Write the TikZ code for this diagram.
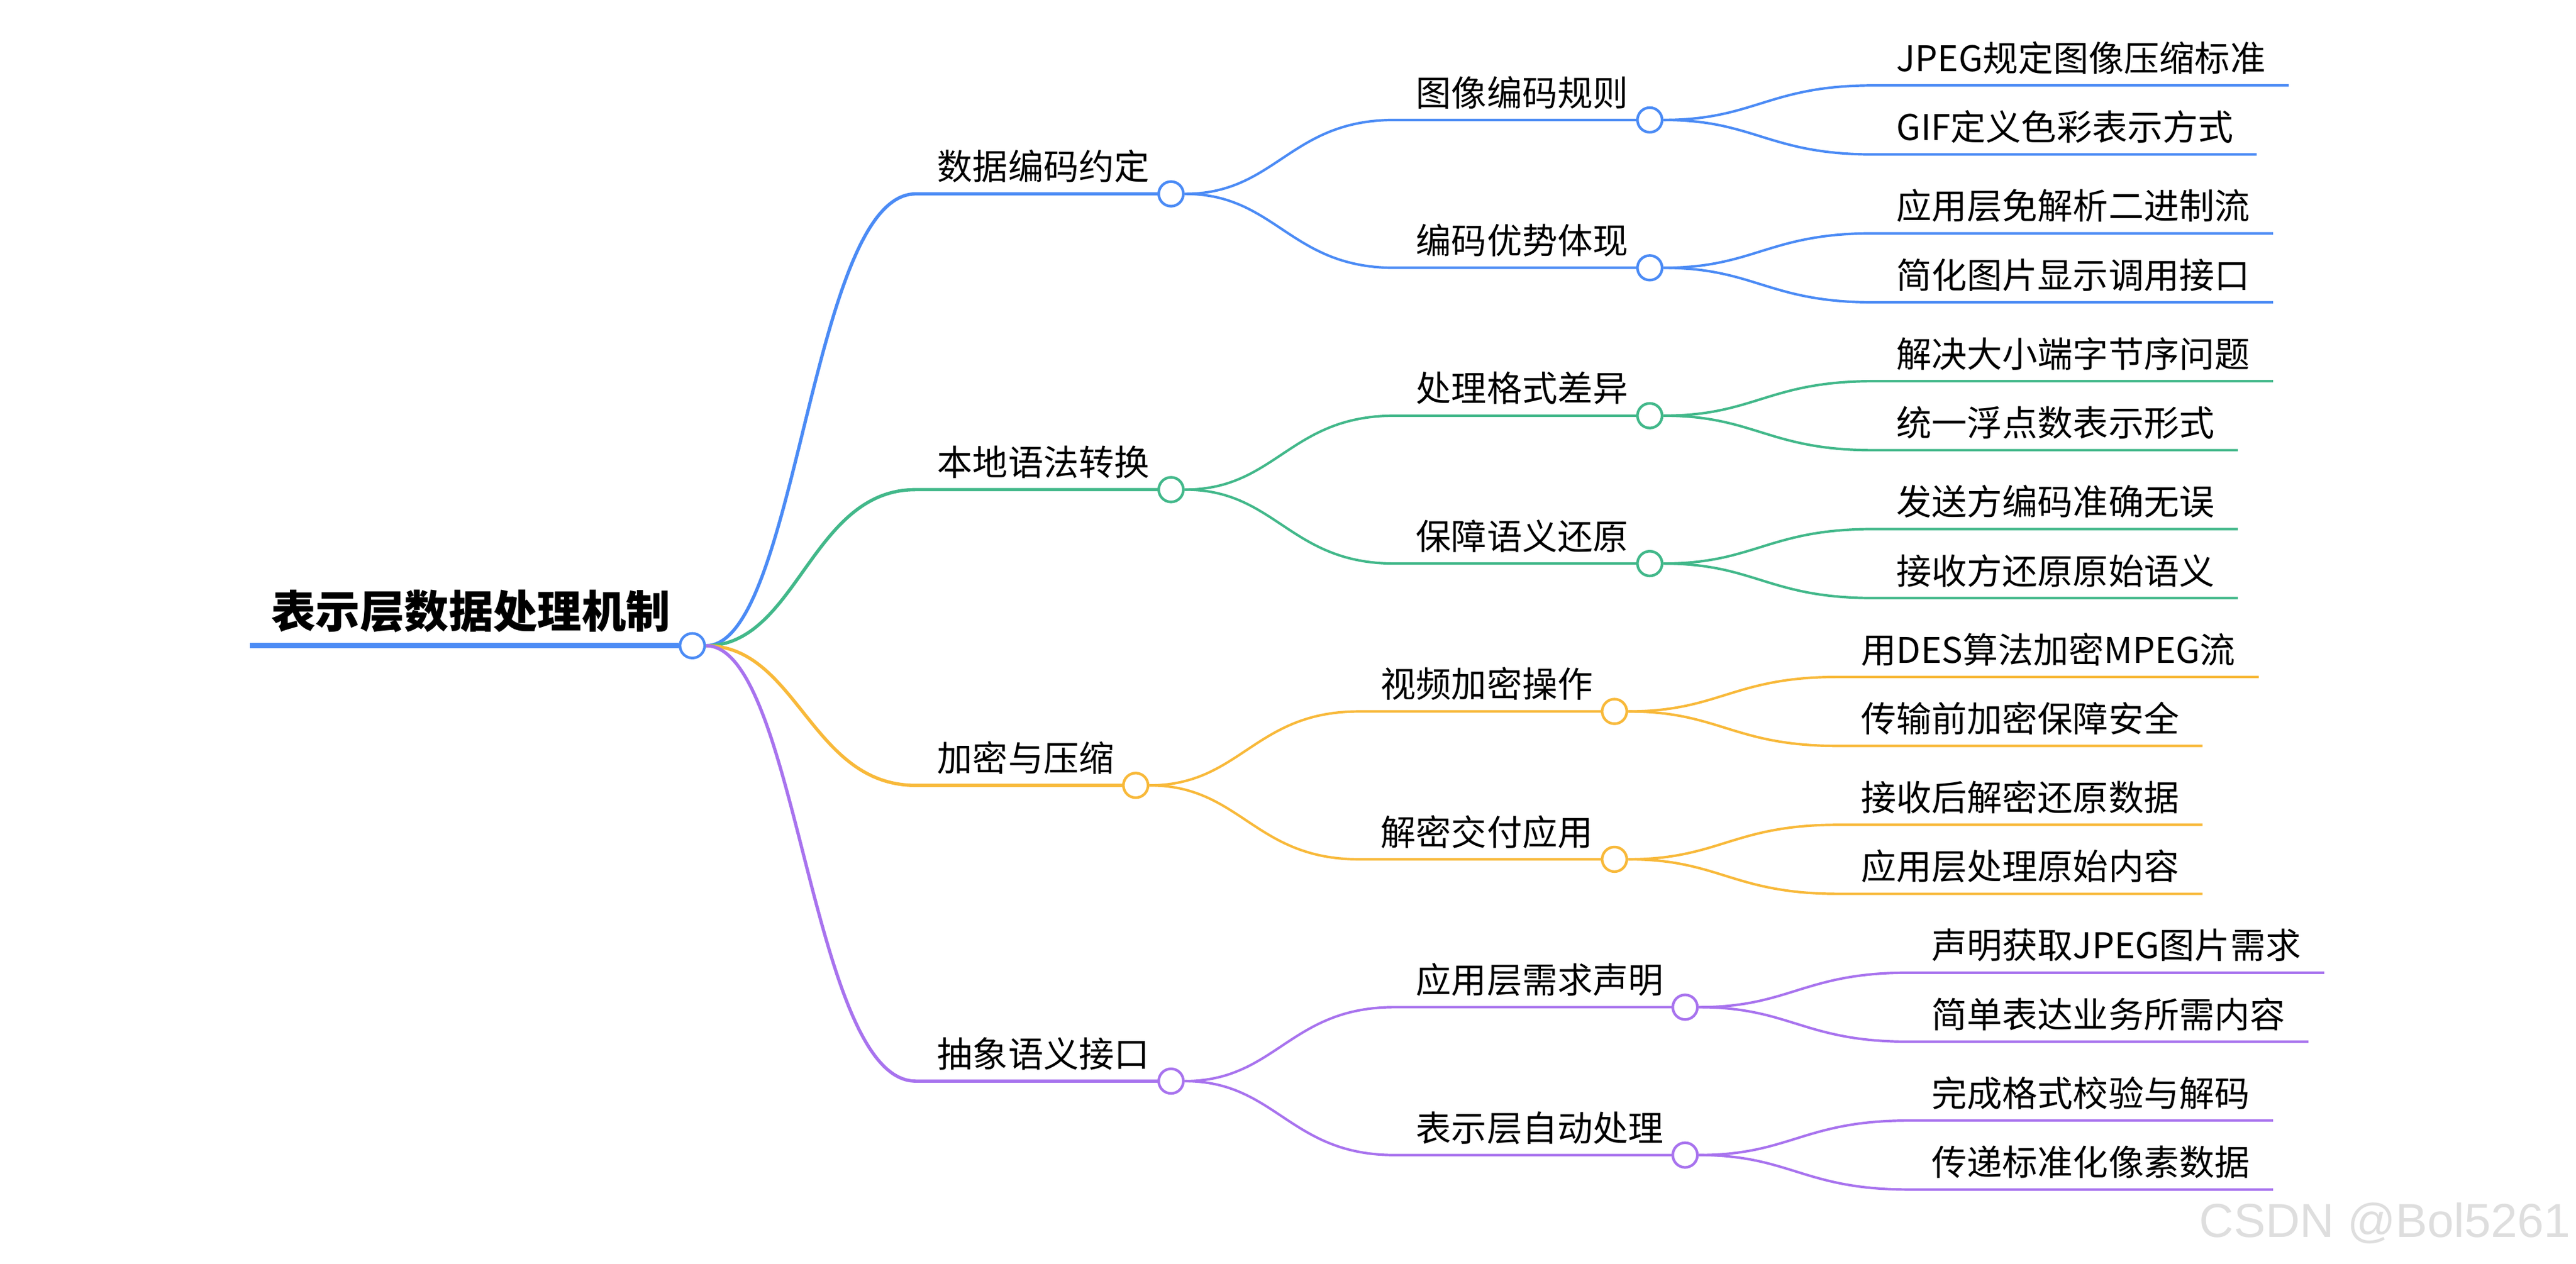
\documentclass[tikz,border=0pt]{standalone}
\usepackage{fontspec}
\setmainfont{Noto Sans CJK SC}
\newfontfamily\markfont{Liberation Sans}
\usepackage{xcolor}

\definecolor{mblue}{HTML}{4B8BF5}
\definecolor{mgreen}{HTML}{42B88A}
\definecolor{morange}{HTML}{F8B93A}
\definecolor{mpurple}{HTML}{A873EE}

\begin{document}
\begin{tikzpicture}[x=1pt, y=-1pt,
    topic/.style={anchor=south west, inner xsep=13pt, inner ysep=0pt, text depth=8.3pt, font=\fontsize{21.5}{24}\selectfont},
    leaf/.style={topic, inner xsep=14pt},
    rootlabel/.style={topic, text depth=10.7pt, font=\fontsize{27}{30}\selectfont\bfseries},
    hub/.style={circle, draw=#1, fill=white, line width=1.6pt, minimum size=15pt, inner sep=0pt},
    trunk/.style={line width=3.2pt},
    twig/.style={line width=2pt},
    leafline/.style={line width=1.5pt}]

    \useasboundingbox (0,0) rectangle (1568,769);

    % Root
    \node[rootlabel] (root) at (152,393) {表示层数据处理机制};
    \node[hub=mblue] (rh) at (root.south east) {};
    \draw[mblue, trunk] (root.south west) -- (rh);

    % Branches
    \node[topic] (a) at ([shift={(136,-275)}]rh) {数据编码约定};
    \node[hub=mblue] (ah) at (a.south east) {};
    \node[topic] (b) at ([shift={(136,-95)}]rh) {本地语法转换};
    \node[hub=mgreen] (bh) at (b.south east) {};
    \node[topic] (c) at ([shift={(136,85)}]rh) {加密与压缩};
    \node[hub=morange] (ch) at (c.south east) {};
    \node[topic] (d) at ([shift={(136,265)}]rh) {抽象语义接口};
    \node[hub=mpurple] (dh) at (d.south east) {};

    \draw[mblue, twig] (rh) .. controls +(64,0) and +(-64,0) .. (a.south west) -- (ah);
    \draw[mgreen, twig] (rh) .. controls +(64,0) and +(-64,0) .. (b.south west) -- (bh);
    \draw[morange, twig] (rh) .. controls +(64,0) and +(-64,0) .. (c.south west) -- (ch);
    \draw[mpurple, twig] (rh) .. controls +(64,0) and +(-64,0) .. (d.south west) -- (dh);

    % Sub-topics
    \node[topic] (a1) at ([shift={(136,-45)}]ah) {图像编码规则};
    \node[hub=mblue] (a1h) at (a1.south east) {};
    \node[topic] (a2) at ([shift={(136,45)}]ah) {编码优势体现};
    \node[hub=mblue] (a2h) at (a2.south east) {};
    \node[topic] (b1) at ([shift={(136,-45)}]bh) {处理格式差异};
    \node[hub=mgreen] (b1h) at (b1.south east) {};
    \node[topic] (b2) at ([shift={(136,45)}]bh) {保障语义还原};
    \node[hub=mgreen] (b2h) at (b2.south east) {};
    \node[topic] (c1) at ([shift={(136,-45)}]ch) {视频加密操作};
    \node[hub=morange] (c1h) at (c1.south east) {};
    \node[topic] (c2) at ([shift={(136,45)}]ch) {解密交付应用};
    \node[hub=morange] (c2h) at (c2.south east) {};
    \node[topic] (d1) at ([shift={(136,-45)}]dh) {应用层需求声明};
    \node[hub=mpurple] (d1h) at (d1.south east) {};
    \node[topic] (d2) at ([shift={(136,45)}]dh) {表示层自动处理};
    \node[hub=mpurple] (d2h) at (d2.south east) {};

    \draw[mblue, leafline] (ah) .. controls +(64,0) and +(-64,0) .. (a1.south west) -- (a1h);
    \draw[mblue, leafline] (ah) .. controls +(64,0) and +(-64,0) .. (a2.south west) -- (a2h);
    \draw[mgreen, leafline] (bh) .. controls +(64,0) and +(-64,0) .. (b1.south west) -- (b1h);
    \draw[mgreen, leafline] (bh) .. controls +(64,0) and +(-64,0) .. (b2.south west) -- (b2h);
    \draw[morange, leafline] (ch) .. controls +(64,0) and +(-64,0) .. (c1.south west) -- (c1h);
    \draw[morange, leafline] (ch) .. controls +(64,0) and +(-64,0) .. (c2.south west) -- (c2h);
    \draw[mpurple, leafline] (dh) .. controls +(64,0) and +(-64,0) .. (d1.south west) -- (d1h);
    \draw[mpurple, leafline] (dh) .. controls +(64,0) and +(-64,0) .. (d2.south west) -- (d2h);

    % Leaves
    \node[leaf] (a11) at ([shift={(136,-21)}]a1h) {JPEG规定图像压缩标准};
    \node[leaf] (a12) at ([shift={(136,21)}]a1h) {GIF定义色彩表示方式};
    \node[leaf] (a21) at ([shift={(136,-21)}]a2h) {应用层免解析二进制流};
    \node[leaf] (a22) at ([shift={(136,21)}]a2h) {简化图片显示调用接口};
    \node[leaf] (b11) at ([shift={(136,-21)}]b1h) {解决大小端字节序问题};
    \node[leaf] (b12) at ([shift={(136,21)}]b1h) {统一浮点数表示形式};
    \node[leaf] (b21) at ([shift={(136,-21)}]b2h) {发送方编码准确无误};
    \node[leaf] (b22) at ([shift={(136,21)}]b2h) {接收方还原原始语义};
    \node[leaf] (c11) at ([shift={(136,-21)}]c1h) {用DES算法加密MPEG流};
    \node[leaf] (c12) at ([shift={(136,21)}]c1h) {传输前加密保障安全};
    \node[leaf] (c21) at ([shift={(136,-21)}]c2h) {接收后解密还原数据};
    \node[leaf] (c22) at ([shift={(136,21)}]c2h) {应用层处理原始内容};
    \node[leaf] (d11) at ([shift={(136,-21)}]d1h) {声明获取JPEG图片需求};
    \node[leaf] (d12) at ([shift={(136,21)}]d1h) {简单表达业务所需内容};
    \node[leaf] (d21) at ([shift={(136,-21)}]d2h) {完成格式校验与解码};
    \node[leaf] (d22) at ([shift={(136,21)}]d2h) {传递标准化像素数据};

    \draw[mblue, leafline] (a1h) .. controls +(64,0) and +(-64,0) .. (a11.south west) -- (a11.south east);
    \draw[mblue, leafline] (a1h) .. controls +(64,0) and +(-64,0) .. (a12.south west) -- (a12.south east);
    \draw[mblue, leafline] (a2h) .. controls +(64,0) and +(-64,0) .. (a21.south west) -- (a21.south east);
    \draw[mblue, leafline] (a2h) .. controls +(64,0) and +(-64,0) .. (a22.south west) -- (a22.south east);
    \draw[mgreen, leafline] (b1h) .. controls +(64,0) and +(-64,0) .. (b11.south west) -- (b11.south east);
    \draw[mgreen, leafline] (b1h) .. controls +(64,0) and +(-64,0) .. (b12.south west) -- (b12.south east);
    \draw[mgreen, leafline] (b2h) .. controls +(64,0) and +(-64,0) .. (b21.south west) -- (b21.south east);
    \draw[mgreen, leafline] (b2h) .. controls +(64,0) and +(-64,0) .. (b22.south west) -- (b22.south east);
    \draw[morange, leafline] (c1h) .. controls +(64,0) and +(-64,0) .. (c11.south west) -- (c11.south east);
    \draw[morange, leafline] (c1h) .. controls +(64,0) and +(-64,0) .. (c12.south west) -- (c12.south east);
    \draw[morange, leafline] (c2h) .. controls +(64,0) and +(-64,0) .. (c21.south west) -- (c21.south east);
    \draw[morange, leafline] (c2h) .. controls +(64,0) and +(-64,0) .. (c22.south west) -- (c22.south east);
    \draw[mpurple, leafline] (d1h) .. controls +(64,0) and +(-64,0) .. (d11.south west) -- (d11.south east);
    \draw[mpurple, leafline] (d1h) .. controls +(64,0) and +(-64,0) .. (d12.south west) -- (d12.south east);
    \draw[mpurple, leafline] (d2h) .. controls +(64,0) and +(-64,0) .. (d21.south west) -- (d21.south east);
    \draw[mpurple, leafline] (d2h) .. controls +(64,0) and +(-64,0) .. (d22.south west) -- (d22.south east);

    % Watermark
    \node[anchor=base east, inner sep=0pt, text=black!13, font=\markfont\fontsize{29}{30}\selectfont] (mark) at (1565,753) {CSDN @Bol5261};

\end{tikzpicture}
\end{document}
